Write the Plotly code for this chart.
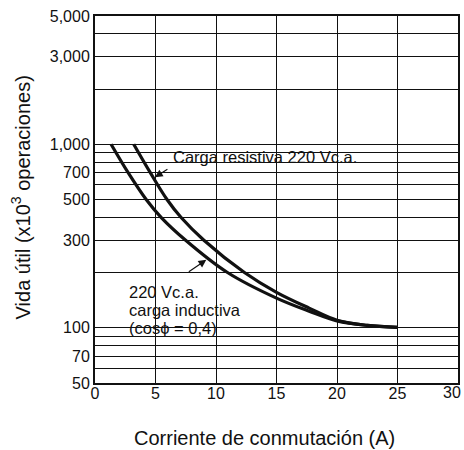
import plotly.graph_objects as go

# ---- data ----
inductive_current = [1.33, 2.74, 4.23, 5.46, 7.49, 10.95, 15.0, 17.7, 20.0, 22.5, 25.0]
inductive_life = [1000, 700, 500, 400, 300, 200, 145, 123, 109, 103, 100.5]

resistive_current = [3.2, 4.57, 5.95, 7.1, 9.0, 12.35, 15.0, 17.7, 20.0, 22.5, 25.0]
resistive_life = [1000, 700, 500, 400, 300, 200, 156, 128, 110, 103, 100.5]

x_ticks = [0, 5, 10, 15, 20, 25, 30]
x_labels = ["0", "5", "10", "15", "20", "25", ""]
y_grid = [50, 60, 70, 80, 90, 100, 200, 300, 400, 500, 600, 700, 800, 900,
          1000, 2000, 3000, 4000, 5000]
y_labels = ["50", "", "70", "", "", "100", "", "300", "", "500", "", "700", "", "",
            "1,000", "", "3,000", "", "5,000"]
last_x_label = "30"

label_resistive = "Carga resistiva 220 Vc.a."
label_inductive = ["220 Vc.a.", "carga inductiva", "(cos\u03d5 = 0,4)"]
x_title = "Corriente de conmutación (A)"
y_title = "Vida útil (x10<sup>3</sup> operaciones)"

FONT = "Liberation Sans, Arial, Helvetica, sans-serif"
INK = "#111111"

# plot-area pixel geometry helpers (for annotation / mask placement)
L, R, T, B = 95, 460, 16, 383


def px(xp):
    return (xp - L) / (R - L)


def py(yp):
    return (B - yp) / (B - T)


fig = go.Figure()
fig.add_trace(go.Scatter(x=inductive_current, y=inductive_life, mode="lines",
                         line=dict(color=INK, width=3.2, shape="spline", smoothing=1.0),
                         showlegend=False, hoverinfo="skip"))
fig.add_trace(go.Scatter(x=resistive_current, y=resistive_life, mode="lines",
                         line=dict(color=INK, width=3.2, shape="spline", smoothing=1.0),
                         showlegend=False, hoverinfo="skip"))

# white masks that interrupt the grid behind the labels
masks = [(163, 141, 347, 170), (347, 148, 361, 170), (112, 276, 236, 343)]
shapes = []
for x0, y0, x1, y1 in masks:
    shapes.append(dict(type="rect", xref="paper", yref="paper",
                       x0=px(x0), x1=px(x1), y0=py(y1), y1=py(y0),
                       fillcolor="white", line=dict(width=0), layer="between"))

annotations = [
    dict(text=label_resistive, xref="paper", yref="paper", x=px(171), y=py(157),
         xanchor="left", yanchor="middle", showarrow=False,
         font=dict(family=FONT, size=16.5, color=INK)),
]
for i, t in enumerate(label_inductive):
    annotations.append(dict(text=t, xref="paper", yref="paper", x=px(127), y=py(292 + 18 * i),
                            xanchor="left", yanchor="middle", showarrow=False,
                            font=dict(family=FONT, size=16.5, color=INK)))
# arrows
annotations.append(dict(text="", x=4.95, y=2.82, xref="x", yref="y", ax=14, ay=-9,
                        showarrow=True, arrowhead=2, arrowsize=1.3, arrowwidth=1.2,
                        arrowcolor=INK, standoff=0))
annotations.append(dict(text="", x=9.2, y=2.37, xref="x", yref="y", ax=-19, ay=13,
                        showarrow=True, arrowhead=2, arrowsize=1.3, arrowwidth=1.2,
                        arrowcolor=INK, standoff=0))
# last x tick label (kept inside the page like in the reference)
annotations.append(dict(text=last_x_label, xref="paper", yref="paper", x=px(454), y=py(392),
                        xanchor="center", yanchor="middle", showarrow=False,
                        font=dict(family=FONT, size=16, color=INK)))
# axis titles
annotations.append(dict(text=x_title, xref="paper", yref="paper", x=px(265), y=py(438),
                        xanchor="center", yanchor="middle", showarrow=False,
                        font=dict(family=FONT, size=20, color=INK)))
annotations.append(dict(text=y_title, xref="paper", yref="paper", x=px(21), y=py(197),
                        xanchor="center", yanchor="middle", showarrow=False, textangle=-90,
                        font=dict(family=FONT, size=20, color=INK)))

fig.update_layout(
    width=464, height=450,
    margin=dict(l=L, r=464 - R, t=T, b=450 - B),
    paper_bgcolor="white", plot_bgcolor="white",
    font=dict(family=FONT, color=INK, size=16),
    shapes=shapes, annotations=annotations,
    xaxis=dict(range=[0, 30], tickvals=x_ticks, ticktext=x_labels,
               showgrid=True, gridcolor=INK, gridwidth=1.3,
               showline=True, linecolor=INK, linewidth=2, mirror=True,
               ticks="", zeroline=False, tickfont=dict(size=16), ticklabelstandoff=-5),
    yaxis=dict(type="log", range=[1.69897, 3.69897], tickvals=y_grid, ticktext=y_labels,
               showgrid=True, gridcolor=INK, gridwidth=1.3,
               showline=True, linecolor=INK, linewidth=2, mirror=True,
               ticks="", zeroline=False, tickfont=dict(size=16)),
)

fig.write_html("out.html", config={"displayModeBar": False},
               post_script="document.body.style.margin='0';document.body.style.padding='0';")
